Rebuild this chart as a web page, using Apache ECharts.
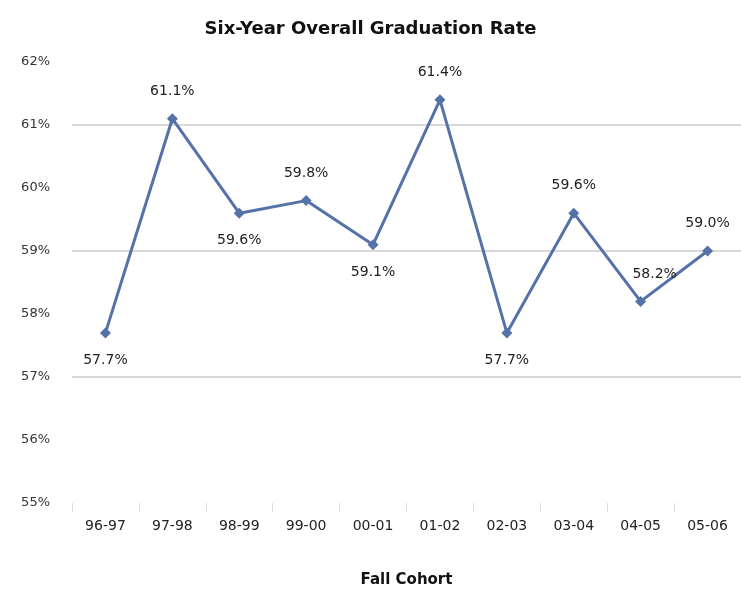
<!DOCTYPE html>
<html>
<head>
<meta charset="utf-8">
<script src="https://cdn.jsdelivr.net/npm/echarts@6/dist/echarts.min.js"></script>
<style>
  html, body { margin: 0; padding: 0; background: #fff; }
  #chart { width: 741px; height: 589px; }
</style>
</head>
<body>
<div id="chart"></div>
<script>
var cohorts = ['96-97', '97-98', '98-99', '99-00', '00-01', '01-02', '02-03', '03-04', '04-05', '05-06']
var rates = [57.7, 61.1, 59.6, 59.8, 59.1, 61.4, 57.7, 59.6, 58.2, 59.0]
// where each value label sits, as in the original
var labelPos = ['bottom', 'top', 'bottom', 'top', 'bottom', 'top', 'bottom', 'top', 'top', 'top']

var chart = echarts.init(document.getElementById('chart'))

var points = rates.map(function (v, i) {
  var lab = { position: labelPos[i] }
  if (i == 8) lab.offset = [14, 0]  // 04-05 label sits a bit to the right
  return { value: v, label: lab }
})

// gridlines only on the odd values (57, 59, 61), none at 55 / 62
var gridColors = ['transparent', 'transparent', '#d9d9d9', 'transparent', '#d9d9d9', 'transparent', '#d9d9d9', 'transparent']

var option = {
  backgroundColor: '#fff',
  title: {
    text: 'Six-Year Overall Graduation Rate',
    left: 'center',
    top: 15,
    textStyle: { fontFamily: 'DejaVu Sans', fontSize: 18, fontWeight: 'bold', color: '#111' }
  },
  grid: { left: 72, right: 0, top: 62, bottom: 86, outerBoundsMode: 'none', containLabel: false },
  xAxis: {
    type: 'category',
    data: cohorts,
    boundaryGap: true,
    name: 'Fall Cohort',
    nameLocation: 'middle',
    nameGap: 70,
    nameTextStyle: { fontFamily: 'DejaVu Sans', fontSize: 15, fontWeight: 'bold', color: '#111' },
    axisLine: { show: false },
    axisTick: { show: true, length: 9, lineStyle: { color: '#dedede' } },
    axisLabel: { margin: 16, fontFamily: 'DejaVu Sans', fontSize: 14, color: '#222' }
  },
  yAxis: {
    type: 'value',
    min: 55,
    max: 62,
    interval: 1,
    axisLine: { show: false },
    axisTick: { show: false },
    splitLine: { show: true, lineStyle: { color: gridColors, width: 2 } },
    axisLabel: { formatter: '{value}%', margin: 22, fontFamily: 'DejaVu Sans', fontSize: 13, color: '#333' }
  },
  series: [{
    type: 'line',
    data: points,
    symbol: 'diamond',
    symbolSize: 11,
    lineStyle: { color: '#5572a8', width: 3 },
    itemStyle: { color: '#5572a8' },
    label: {
      show: true,
      distance: 15,
      formatter: function (p) { return p.value.toFixed(1) + '%' },
      fontFamily: 'DejaVu Sans',
      fontSize: 14,
      color: '#222'
    }
  }]
}

chart.setOption(option)
</script>
</body>
</html>
